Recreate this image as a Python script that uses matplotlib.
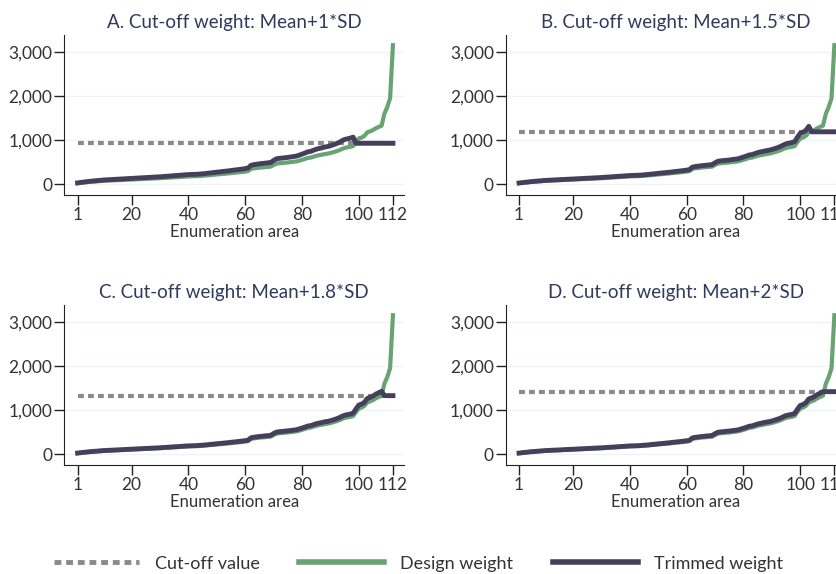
import numpy as np
import matplotlib
matplotlib.use('Agg')
import matplotlib.pyplot as plt
from matplotlib.lines import Line2D
from matplotlib.ticker import FuncFormatter

# enumeration areas sorted by design weight
areas = list(range(1, 113))

design = [28, 35, 42, 48, 55, 60, 65, 70, 75, 80,
          83, 86, 89, 92, 95, 98, 101, 104, 107, 110,
          113, 116, 119, 122, 125, 128, 131, 134, 137, 140,
          144, 148, 152, 156, 160, 164, 168, 172, 176, 180,
          182, 184, 186, 190, 195, 200, 206, 212, 218, 225,
          230, 236, 242, 248, 255, 262, 268, 275, 282, 290,
          300, 350, 362, 370, 378, 384, 390, 396, 402, 440,
          470, 478, 484, 490, 496, 504, 512, 520, 536, 556,
          575, 598, 606, 626, 646, 660, 672, 686, 695, 710,
          728, 748, 770, 800, 825, 838, 850, 868, 960, 1040,
          1060, 1100, 1180, 1200, 1230, 1270, 1300, 1330, 1600, 1750,
          1950, 3150]

trim_a = [34, 43, 52, 59, 68, 74, 80, 86, 92, 98,
          102, 106, 110, 113, 117, 121, 124, 128, 132, 135,
          139, 143, 147, 150, 154, 158, 161, 165, 169, 172,
          177, 182, 187, 192, 197, 202, 207, 212, 217, 222,
          224, 227, 229, 234, 240, 246, 254, 261, 268, 277,
          283, 291, 298, 305, 314, 323, 330, 339, 347, 357,
          369, 431, 446, 456, 465, 473, 480, 488, 495, 542,
          579, 589, 596, 603, 611, 621, 630, 640, 660, 685,
          708, 736, 746, 771, 795, 813, 827, 845, 856, 874,
          896, 921, 948, 985, 1016, 1032, 1047, 1069, 930, 930,
          930, 930, 930, 930, 930, 930, 930, 930, 930, 930,
          930, 930]

trim_b = [31, 39, 47, 53, 61, 67, 72, 78, 83, 89,
          92, 96, 99, 102, 106, 109, 112, 116, 119, 122,
          126, 129, 132, 136, 139, 142, 146, 149, 152, 156,
          160, 165, 169, 174, 178, 183, 187, 191, 196, 200,
          203, 205, 207, 211, 217, 223, 229, 236, 243, 250,
          256, 263, 269, 276, 284, 292, 298, 306, 314, 323,
          334, 390, 403, 412, 421, 427, 434, 441, 447, 490,
          523, 532, 539, 545, 552, 561, 570, 579, 597, 619,
          640, 666, 674, 697, 719, 735, 748, 763, 773, 790,
          810, 832, 857, 890, 918, 933, 946, 966, 1068, 1157,
          1180, 1224, 1313, 1190, 1190, 1190, 1190, 1190, 1190, 1190,
          1190, 1190]

trim_c = [30, 38, 45, 52, 59, 64, 70, 75, 81, 86,
          89, 92, 96, 99, 102, 105, 108, 112, 115, 118,
          121, 125, 128, 131, 134, 137, 141, 144, 147, 150,
          155, 159, 163, 168, 172, 176, 180, 185, 189, 193,
          195, 198, 200, 204, 209, 215, 221, 228, 234, 242,
          247, 253, 260, 266, 274, 281, 288, 295, 303, 311,
          322, 376, 389, 397, 406, 412, 419, 425, 432, 473,
          505, 513, 520, 526, 533, 541, 550, 558, 576, 597,
          617, 642, 651, 672, 694, 709, 722, 737, 746, 762,
          782, 803, 827, 859, 886, 900, 913, 932, 1031, 1117,
          1138, 1181, 1267, 1289, 1321, 1364, 1396, 1428, 1330, 1330,
          1330, 1330]

trim_d = [30, 37, 45, 51, 59, 64, 69, 75, 80, 85,
          88, 92, 95, 98, 101, 104, 108, 111, 114, 117,
          120, 124, 127, 130, 133, 136, 140, 143, 146, 149,
          153, 158, 162, 166, 170, 175, 179, 183, 188, 192,
          194, 196, 198, 202, 208, 213, 219, 226, 232, 240,
          245, 251, 258, 264, 272, 279, 286, 293, 300, 309,
          320, 373, 386, 394, 403, 409, 416, 422, 428, 469,
          501, 509, 516, 522, 528, 537, 545, 554, 571, 592,
          613, 637, 646, 667, 688, 703, 716, 731, 740, 756,
          776, 797, 820, 852, 879, 893, 906, 925, 1023, 1108,
          1129, 1172, 1257, 1278, 1310, 1353, 1385, 1417, 1420, 1420,
          1420, 1420]

cutoffs = [930, 1190, 1330, 1420]
titles = ['A. Cut-off weight: Mean+1*SD', 'B. Cut-off weight: Mean+1.5*SD',
          'C. Cut-off weight: Mean+1.8*SD', 'D. Cut-off weight: Mean+2*SD']
trimmed = [trim_a, trim_b, trim_c, trim_d]
xticks = [1, 20, 40, 60, 80, 100, 112]
yticks = [0, 1000, 2000, 3000]

green = '#69a374'
purple = '#463f5c'
grey = '#8a8a8a'
title_col = '#2f3a5e'
txt_col = '#333333'

plt.rcParams['font.family'] = ['Lato', 'DejaVu Sans']

fig = plt.figure(figsize=(8.37, 5.74), dpi=100)

# axes boxes in figure fractions (B and D run past the right edge, like the original)
lefts = [0.0768, 0.6042, 0.0768, 0.6042]
bottoms = [0.6603, 0.6603, 0.1899, 0.1899]

for i in range(4):
    ax = fig.add_axes([lefts[i], bottoms[i], 0.4059, 0.2787])
    ax.set_xlim(-3.7, 115.9)
    ax.set_ylim(-240, 3380)
    for y in yticks:
        ax.axhline(y, color='#edf3f8', lw=1, zorder=0)
    ax.plot([1, 112], [cutoffs[i], cutoffs[i]], color=grey, lw=3,
            linestyle=(0, (1.4, 1.0)), zorder=2)
    ax.plot(areas, design, color=green, lw=3, zorder=3, solid_joinstyle='round')
    ax.plot(areas, trimmed[i], color=purple, lw=3.5, zorder=4, solid_joinstyle='round')
    ax.set_xticks(xticks)
    ax.set_yticks(yticks)
    ax.yaxis.set_major_formatter(FuncFormatter(lambda v, p: f'{int(v):,}'))
    ax.tick_params(axis='both', labelsize=12.5, colors='#222222', labelcolor=txt_col,
                   length=7, width=1, pad=1.5)
    ax.spines['top'].set_visible(False)
    ax.spines['right'].set_visible(False)
    ax.spines['left'].set_color('#222222')
    ax.spines['bottom'].set_color('#222222')
    ax.set_xlabel('Enumeration area', fontsize=12, color=txt_col, labelpad=1)
    ax.set_title(titles[i], fontsize=13.5, color=title_col, pad=5)

handles = [Line2D([], [], color=grey, lw=3.5, linestyle=(0, (1.4, 1.0))),
           Line2D([], [], color=green, lw=4),
           Line2D([], [], color=purple, lw=4)]
labels = ['Cut-off value', 'Design weight', 'Trimmed weight']
fig.legend(handles, labels, loc='center', bbox_to_anchor=(0.5, 0.018), ncol=3,
           frameon=False, handlelength=4.7, handletextpad=0.9, columnspacing=2.2,
           prop={'family': ['Lato', 'DejaVu Sans'], 'size': 13},
           labelcolor=txt_col)

fig.savefig('out.png', dpi=100)
